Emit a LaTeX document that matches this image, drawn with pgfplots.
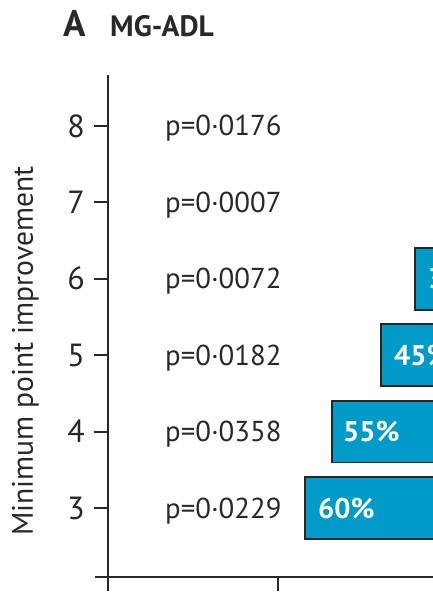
\documentclass[border=0pt]{standalone}
\usepackage{fontspec}
\setmainfont{PT Sans}
\usepackage{pgfplots}
\pgfplotsset{compat=1.18}
\definecolor{barblue}{RGB}{0,155,200}
\definecolor{axisgray}{RGB}{40,40,40}
\begin{document}
\begin{tikzpicture}
\begin{axis}[
  scale only axis,
  width=325pt, height=502pt,
  xmin=0, xmax=325,
  ymin=2.0969, ymax=8.6675,
  axis x line=bottom, axis y line=left,
  axis line style={-, line width=1.8pt, color=axisgray},
  xtick={0,170}, xticklabels={},
  ytick={3,4,5,6,7,8},
  tick align=outside,
  major tick length=14pt,
  every tick/.style={line width=1.8pt, color=axisgray},
  /pgf/number format/assume math mode=true,
  yticklabel style={font=\fontsize{32}{36}\selectfont, text=axisgray, inner sep=0pt, xshift=-9pt},
  ylabel={Minimum point improvement},
  ylabel style={font=\fontsize{29.6}{33}\selectfont, text=axisgray, anchor=base, at={(axis description cs:-0.2308,0.450)}},
  bar width=62pt,
  clip=true,
]
% invisible offset segment
\addplot[xbar stacked, draw=none, fill=none] coordinates {(197,3) (224,4) (273,5) (307,6)};
% visible bar segment (runs past the right edge)
\addplot[xbar stacked, draw=black!85, line width=1.8pt, fill=barblue] coordinates {(400,3) (400,4) (400,5) (400,6)};
% bar labels
\addplot[draw=none, nodes near coords, point meta=explicit symbolic,
  every node near coord/.style={anchor=base west, inner sep=0pt, yshift=-10pt, text=white, font=\bfseries\fontsize{28.5}{32}\selectfont}]
  coordinates {(210,3) [60\%] (235,4) [55\%] (286,5) [45\%] (320,6) [35\%]};
% p-values
\addplot[draw=none, nodes near coords, point meta=explicit symbolic,
  every node near coord/.style={anchor=base west, inner sep=0pt, yshift=-10pt, text=axisgray, font=\fontsize{28.8}{33}\selectfont}]
  coordinates {(57,3) [p=0·0229] (57,4) [p=0·0358] (57,5) [p=0·0182] (57,6) [p=0·0072] (57,7) [p=0·0007] (57,8) [p=0·0176]};
\end{axis}
\draw[line width=1.8pt, axisgray] ([xshift=-13pt]current axis.south west) -- (current axis.south west);
\node[anchor=base west, inner sep=0pt, text=axisgray, font=\bfseries\fontsize{37}{40}\selectfont] at ([xshift=-45pt, yshift=38pt]current axis.north west) {A};
\node[anchor=base west, inner sep=0pt, text=axisgray, font=\bfseries\fontsize{29.5}{33}\selectfont] at ([xshift=2pt, yshift=38pt]current axis.north west) {MG-ADL};
\pgfresetboundingbox
\path[use as bounding box] ([xshift=-108pt,yshift=-18pt]current axis.south west) rectangle ([yshift=75pt]current axis.north east);
\end{tikzpicture}
\end{document}
